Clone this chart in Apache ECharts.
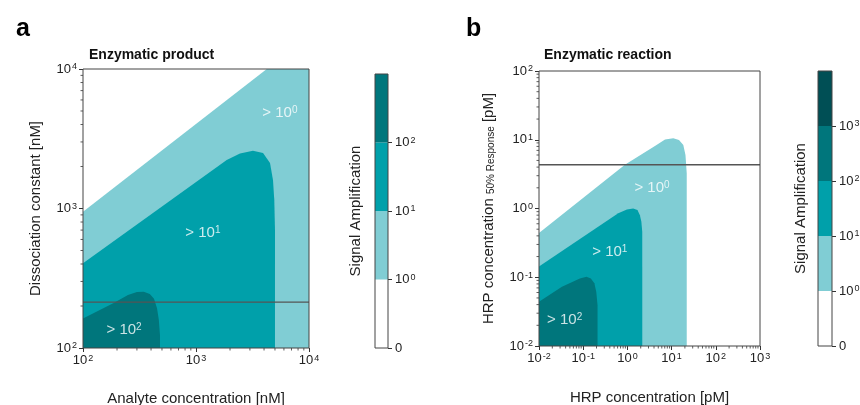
<!DOCTYPE html>
<html>
<head>
<meta charset="utf-8">
<script src="https://cdn.jsdelivr.net/npm/echarts@6/dist/echarts.min.js"></script>
<style>
html, body { margin: 0; padding: 0; background: #fff; }
#main { width: 860px; height: 405px; }
</style>
</head>
<body>
<div id="main"></div>
<script>
var FONT = '"Liberation Sans", Arial, sans-serif';
var C_LIGHT = '#80cdd4', C_MID = '#00a0aa', C_DARK = '#00767c', C_DARKEST = '#004f55';

// panel a : Enzymatic product (region outlines, data units nM)
var aLightX = [100, 4230, 10000, 10000, 100];
var aLightY = [948, 10000, 10000, 100, 100];
var aMidX = [100, 1870, 2450, 3190, 3920, 4520, 4800, 4930, 5000, 5000, 100];
var aMidY = [405, 2230, 2480, 2590, 2500, 2120, 1600, 1150, 700, 100, 100];
var aHighX = [100, 185, 250, 300, 345, 390, 425, 452, 469, 480, 480, 100];
var aHighY = [163, 209, 240, 252, 253, 244, 225, 193, 159, 124, 100, 100];
var aRefLine = 213;
var aLabelX = [5530, 1150, 231];
var aLabelY = [4840, 667, 135];
var aLabelExp = [0, 1, 2];

// panel b : Enzymatic reaction (data units pM)
var bLightX = [0.01, 0.877, 4.2, 7.1, 10.9, 14.7, 18.4, 20.6, 22, 22, 0.01];
var bLightY = [0.44, 4.33, 8.1, 10.1, 10.5, 9.9, 8.4, 6.0, 3.25, 0.01, 0.01];
var bMidX = [0.01, 0.62, 0.975, 1.35, 1.69, 1.92, 2.07, 2.17, 2.17, 0.01];
var bMidY = [0.143, 0.85, 0.966, 1.0, 0.95, 0.80, 0.64, 0.455, 0.01, 0.01];
var bHighX = [0.01, 0.033, 0.084, 0.119, 0.149, 0.179, 0.198, 0.211, 0.211, 0.01];
var bHighY = [0.044, 0.073, 0.096, 0.102, 0.096, 0.082, 0.061, 0.039, 0.01, 0.01];
var bRefLine = 4.33;
var bLabelX = [3.6, 0.40, 0.038];
var bLabelY = [1.99, 0.235, 0.024];
var bLabelExp = [0, 1, 2];

// colour bars
var cbALabels = ['0', '10{s|0}', '10{s|1}', '10{s|2}'];
var cbAColors = ['#ffffff', C_LIGHT, C_MID, C_DARK];
var cbBLabels = ['0', '10{s|0}', '10{s|1}', '10{s|2}', '10{s|3}'];
var cbBColors = ['#ffffff', C_LIGHT, C_MID, C_DARK, C_DARKEST];

var supRich = { s: { fontSize: 9, fontFamily: FONT, color: '#222', verticalAlign: 'top', padding: [0, 0, 0, 1] } };

function expLabel(v) {
  var e = Math.round(Math.log(v) / Math.LN10);
  return '10{s|' + e + '}';
}

function logAxis(gi, min, max, pos, name, gap, extra) {
  var ax = {
    type: 'log', logBase: 10, gridIndex: gi, min: min, max: max, position: pos,
    splitNumber: Math.round(Math.log(max / min) / Math.LN10),
    name: name, nameLocation: 'middle', nameGap: gap,
    nameTextStyle: { fontFamily: FONT, fontSize: 15, color: '#222' },
    axisLine: { show: false },
    axisTick: { show: true, length: 4, lineStyle: { color: '#333' } },
    axisLabel: { fontFamily: FONT, fontSize: 13, color: '#222', margin: 6, formatter: expLabel, rich: supRich },
    splitLine: { show: false },
    minorTick: { show: false }
  };
  if (extra) for (var k in extra) ax[k] = extra[k];
  return ax;
}

function region(gi, xs, ys, color) {
  return {
    type: 'custom', xAxisIndex: gi, yAxisIndex: gi, silent: true, z: 1, clip: true,
    data: [[xs[0], ys[0]]],
    renderItem: function (params, api) {
      var pts = xs.map(function (x, i) { return api.coord([x, ys[i]]); });
      return { type: 'polygon', shape: { points: pts }, style: { fill: color } };
    }
  };
}

function frame(xi, yi, d) {
  return {
    type: 'custom', xAxisIndex: xi, yAxisIndex: yi, silent: true, z: 10,
    data: [d],
    renderItem: function (params) {
      var c = params.coordSys;
      return { type: 'rect', shape: { x: c.x, y: c.y, width: c.width, height: c.height },
               style: { fill: 'none', stroke: '#444', lineWidth: 1 } };
    }
  };
}

function minorTicks(gi, xmin, xmax, ymin, ymax) {
  return {
    type: 'custom', xAxisIndex: gi, yAxisIndex: gi, silent: true, z: 10,
    data: [[xmin, ymin]],
    renderItem: function (params, api) {
      var kids = [];
      var k, m, p;
      for (k = Math.round(Math.log10(xmin)); k < Math.round(Math.log10(xmax)); k++) {
        for (m = 2; m <= 9; m++) {
          p = api.coord([m * Math.pow(10, k), ymin]);
          kids.push({ type: 'line', shape: { x1: p[0], y1: p[1], x2: p[0], y2: p[1] + 2.5 }, style: { stroke: '#333', lineWidth: 0.8 } });
        }
      }
      for (k = Math.round(Math.log10(ymin)); k < Math.round(Math.log10(ymax)); k++) {
        for (m = 2; m <= 9; m++) {
          p = api.coord([xmin, m * Math.pow(10, k)]);
          kids.push({ type: 'line', shape: { x1: p[0] - 2.5, y1: p[1], x2: p[0], y2: p[1] }, style: { stroke: '#333', lineWidth: 0.8 } });
        }
      }
      return { type: 'group', children: kids };
    }
  };
}

function refLine(gi, xmin, xmax, y) {
  return {
    type: 'line', xAxisIndex: gi, yAxisIndex: gi, silent: true, z: 5,
    data: [[xmin, y], [xmax, y]], symbol: 'none',
    lineStyle: { color: '#555', width: 1.3 }
  };
}

function regionLabels(gi, xs, ys, exps) {
  return {
    type: 'scatter', xAxisIndex: gi, yAxisIndex: gi, silent: true, z: 6, symbolSize: 0,
    data: xs.map(function (x, i) { return { value: [x, ys[i]], exp: exps[i] }; }),
    label: {
      show: true, position: 'inside', fontFamily: FONT, fontSize: 15, color: '#fff',
      formatter: function (p) { return '> 10{s|' + p.data.exp + '}'; },
      rich: { s: { fontSize: 10, fontFamily: FONT, color: '#fff', verticalAlign: 'top' } }
    }
  };
}

function cbBars(gi, colors) {
  return colors.map(function (c) {
    return { type: 'bar', xAxisIndex: gi, yAxisIndex: gi, stack: 'cb' + gi, barWidth: '100%',
             silent: true, data: [1], itemStyle: { color: c } };
  });
}

function cbAxis(gi, labels, n) {
  var vals = labels.map(function (l, i) { return i; });
  return {
    type: 'value', gridIndex: gi, position: 'right', min: 0, max: n,
    axisLine: { show: false }, splitLine: { show: false },
    axisTick: { show: true, length: 4, customValues: vals, lineStyle: { color: '#333' } },
    axisLabel: { fontFamily: FONT, fontSize: 13, color: '#222', margin: 7, customValues: vals,
                 formatter: function (v) { return labels[Math.round(v)]; }, rich: supRich }
  };
}

function cbNameAxis(gi, n, gap) {
  return {
    type: 'value', gridIndex: gi, position: 'left', min: 0, max: n,
    name: 'Signal Amplification', nameLocation: 'middle', nameGap: gap, nameRotate: 90,
    nameTextStyle: { fontFamily: FONT, fontSize: 15, color: '#222' },
    axisLine: { show: false }, axisTick: { show: false }, axisLabel: { show: false }, splitLine: { show: false }
  };
}

var catAxis = function (gi) {
  return { type: 'category', gridIndex: gi, data: ['c'], show: false, boundaryGap: true };
};

var chart = echarts.init(document.getElementById('main'), null, { renderer: 'canvas' });

var option = {
  animation: false,
  backgroundColor: '#fff',
  textStyle: { fontFamily: FONT },
  title: [
    { text: 'a', left: 11, top: 12, textStyle: { fontFamily: FONT, fontSize: 25, fontWeight: 'bold', color: '#000' } },
    { text: 'b', left: 461, top: 12, textStyle: { fontFamily: FONT, fontSize: 25, fontWeight: 'bold', color: '#000' } },
    { text: 'Enzymatic product', left: 84, top: 43, textStyle: { fontFamily: FONT, fontSize: 14, fontWeight: 'bold', color: '#111' } },
    { text: 'Enzymatic reaction', left: 539, top: 43, textStyle: { fontFamily: FONT, fontSize: 14, fontWeight: 'bold', color: '#111' } }
  ],
  grid: [
    { left: 83, top: 69, width: 226, height: 279, outerBoundsMode: 'none' },
    { left: 539, top: 71, width: 221, height: 275, outerBoundsMode: 'none' },
    { left: 375, top: 74, width: 13, height: 274, outerBoundsMode: 'none' },
    { left: 818, top: 71, width: 14, height: 275, outerBoundsMode: 'none' }
  ],
  xAxis: [
    logAxis(0, 100, 10000, 'bottom', 'Analyte concentration [nM]', 43),
    logAxis(1, 0.01, 1000, 'bottom', 'HRP concentration [pM]', 44),
    catAxis(2),
    catAxis(3)
  ],
  yAxis: [
    logAxis(0, 100, 10000, 'left', 'Dissociation constant [nM]', 40),
    logAxis(1, 0.01, 100, 'left', 'HRP concentration {sub|50% Response} [pM]', 43, {
      nameTextStyle: { fontFamily: FONT, fontSize: 15, color: '#222',
        rich: { sub: { fontSize: 10, fontFamily: FONT, color: '#222', verticalAlign: 'bottom', padding: [4, 0, 0, 0] } } }
    }),
    cbAxis(2, cbALabels, 4),
    cbAxis(3, cbBLabels, 5),
    cbNameAxis(2, 4, 12),
    cbNameAxis(3, 5, 10)
  ],
  series: [
    region(0, aLightX, aLightY, C_LIGHT),
    region(0, aMidX, aMidY, C_MID),
    region(0, aHighX, aHighY, C_DARK),
    refLine(0, 100, 10000, aRefLine),
    regionLabels(0, aLabelX, aLabelY, aLabelExp),
    minorTicks(0, 100, 10000, 100, 10000),
    frame(0, 0, [100, 100]),

    region(1, bLightX, bLightY, C_LIGHT),
    region(1, bMidX, bMidY, C_MID),
    region(1, bHighX, bHighY, C_DARK),
    refLine(1, 0.01, 1000, bRefLine),
    regionLabels(1, bLabelX, bLabelY, bLabelExp),
    minorTicks(1, 0.01, 1000, 0.01, 100),
    frame(1, 1, [0.01, 0.01])
  ].concat(cbBars(2, cbAColors), cbBars(3, cbBColors), [
    frame(2, 2, [0, 0]),
    frame(3, 3, [0, 0])
  ])
};

chart.setOption(option);
</script>
</body>
</html>
